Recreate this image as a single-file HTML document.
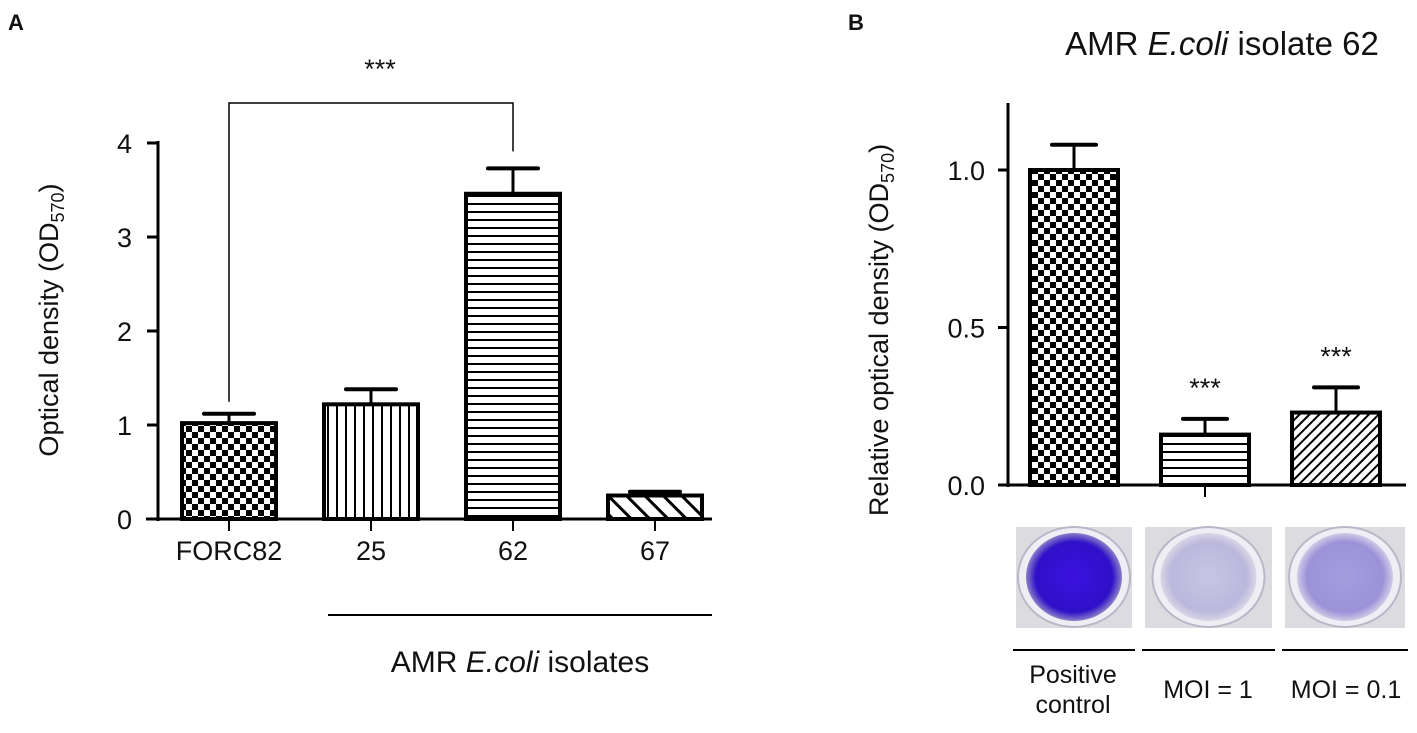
<!DOCTYPE html>
<html><head><meta charset="utf-8"><style>
body{margin:0;background:#fff;width:1417px;height:728px;overflow:hidden}
svg text{font-family:"Liberation Sans",Arial,sans-serif;fill:#111}
</style></head><body>
<svg width="1417" height="728">
<defs>
<pattern id="chk" width="12" height="12" patternUnits="userSpaceOnUse"><rect width="12" height="12" fill="#fff"/><rect width="6" height="6" fill="#000"/><rect x="6" y="6" width="6" height="6" fill="#000"/></pattern>
<pattern id="vert" width="9" height="10" patternUnits="userSpaceOnUse"><rect width="9" height="10" fill="#fff"/><rect x="3" width="2" height="10" fill="#000"/></pattern>
<pattern id="hor" width="10" height="8" patternUnits="userSpaceOnUse"><rect width="10" height="8" fill="#fff"/><rect y="3" width="10" height="2" fill="#000"/></pattern>
<pattern id="diagA" width="13" height="13" patternUnits="userSpaceOnUse" patternTransform="rotate(-45)"><rect width="13" height="13" fill="#fff"/><rect width="3" height="13" fill="#000"/></pattern>
<pattern id="diagB" width="7" height="7" patternUnits="userSpaceOnUse" patternTransform="rotate(45)"><rect width="7" height="7" fill="#fff"/><rect width="2" height="7" fill="#000"/></pattern>
<radialGradient id="w1"><stop offset="0" stop-color="#3a12e0"/><stop offset="0.8" stop-color="#3010c8"/><stop offset="1" stop-color="#8a80c8"/></radialGradient>
<radialGradient id="w2"><stop offset="0" stop-color="#c8c4e4"/><stop offset="0.8" stop-color="#bcb8dc"/><stop offset="1" stop-color="#d8d6e6"/></radialGradient>
<radialGradient id="w3"><stop offset="0" stop-color="#a69ce0"/><stop offset="0.8" stop-color="#9c92d8"/><stop offset="1" stop-color="#cfcbe6"/></radialGradient>
</defs>
<text x="8" y="30" font-size="22" font-weight="bold">A</text>
<text x="848" y="30" font-size="22" font-weight="bold">B</text>
<g id="A"></g>
<g id="B"></g>
</svg>
<script>
const catsA=["FORC82","25","62","67"];
const valsA=[1.02,1.22,3.46,0.25];
const errA=[0.10,0.16,0.27,0.04];
const ticksA=[0,1,2,3,4];
const fillsA=["chk","vert","hor","diagA"];
const catsB=["Positive control","MOI = 1","MOI = 0.1"];
const valsB=[1.0,0.16,0.23];
const errB=[0.08,0.05,0.08];
const ticksB=["0.0","0.5","1.0"];
const fillsB=["chk","hor","diagB"];
const NS="http://www.w3.org/2000/svg";
function mk(p,t,a,txt){const e=document.createElementNS(NS,t);for(const k in a)e.setAttribute(k,a[k]);if(txt!==undefined)e.textContent=txt;p.appendChild(e);return e;}
// Panel A
const A=document.getElementById('A');
const yA=v=>519-v*94, xA=i=>229+i*142;
mk(A,'line',{x1:158,y1:141,x2:158,y2:521,stroke:'#000','stroke-width':3});
mk(A,'line',{x1:146,y1:519,x2:712,y2:519,stroke:'#000','stroke-width':3});
ticksA.forEach(t=>{mk(A,'line',{x1:147,y1:yA(t),x2:158,y2:yA(t),stroke:'#000','stroke-width':3});
const tl=mk(A,'text',{x:132,y:yA(t)+10,'font-size':27,'text-anchor':'end'},t);});
valsA.forEach((v,i)=>{const x=xA(i);
mk(A,'line',{x1:x,y1:yA(v+errA[i]),x2:x,y2:yA(v),stroke:'#000','stroke-width':3});
mk(A,'line',{x1:x-25,y1:yA(v+errA[i]),x2:x+25,y2:yA(v+errA[i]),stroke:'#000','stroke-width':4,'stroke-linecap':'round'});
const b=mk(A,'rect',{x:x-47,y:yA(v),width:94,height:yA(0)-yA(v),fill:'url(#'+fillsA[i]+')',stroke:'#000','stroke-width':4});

mk(A,'line',{x1:x,y1:519,x2:x,y2:531,stroke:'#000','stroke-width':2});
const l=mk(A,'text',{x:x,y:560,'font-size':27,'text-anchor':'middle'},catsA[i]);});
mk(A,'path',{d:`M${xA(0)} ${yA(valsA[0]+errA[0])-12} V103 H${xA(2)} V${yA(valsA[2]+errA[2])-17}`,fill:'none',stroke:'#000','stroke-width':1.5});
mk(A,'text',{x:380,y:78,'font-size':27,'text-anchor':'middle'},'***');
mk(A,'line',{x1:328,y1:615,x2:712,y2:615,stroke:'#000','stroke-width':2});
const gl=mk(A,'text',{x:520,y:672,'font-size':30,'text-anchor':'middle'});
gl.innerHTML='AMR <tspan font-style="italic">E.coli</tspan> isolates';
const yt=mk(A,'text',{transform:'translate(58,320) rotate(-90)','font-size':27,'text-anchor':'middle'});
yt.innerHTML='Optical density  (OD<tspan font-size="18" dy="6">570</tspan><tspan dy="-6">)</tspan>';
// Panel B
const B=document.getElementById('B');
const yB=v=>485-v*315, xB=i=>1074+i*131;
const tt=mk(B,'text',{x:1222,y:55,'font-size':33,'text-anchor':'middle'});
tt.innerHTML='AMR <tspan font-style="italic">E.coli</tspan> isolate 62';
mk(B,'line',{x1:1008,y1:103,x2:1008,y2:487,stroke:'#000','stroke-width':3});
mk(B,'line',{x1:1006,y1:485,x2:1406,y2:485,stroke:'#000','stroke-width':3});
ticksB.forEach(t=>{const v=parseFloat(t);mk(B,'line',{x1:998,y1:yB(v),x2:1008,y2:yB(v),stroke:'#000','stroke-width':3});
const tl=mk(B,'text',{x:985,y:yB(v)+10,'font-size':27,'text-anchor':'end'},t);});
mk(B,'line',{x1:1205,y1:485,x2:1205,y2:497,stroke:'#000','stroke-width':2});
valsB.forEach((v,i)=>{const x=xB(i);
mk(B,'line',{x1:x,y1:yB(v+errB[i]),x2:x,y2:yB(v),stroke:'#000','stroke-width':3});
mk(B,'line',{x1:x-22,y1:yB(v+errB[i]),x2:x+22,y2:yB(v+errB[i]),stroke:'#000','stroke-width':4,'stroke-linecap':'round'});
const b=mk(B,'rect',{x:x-44,y:yB(v),width:88,height:yB(0)-yB(v),fill:'url(#'+fillsB[i]+')',stroke:'#000','stroke-width':4});

if(i>0){mk(B,'text',{x:x,y:yB(v+errB[i])-22,'font-size':27,'text-anchor':'middle'},'***');}
});
const wells=[[1016,116,'w1'],[1145,127,'w2'],[1285,120,'w3']];
wells.forEach((w,i)=>{const g=mk(B,'g',{});
mk(g,'rect',{x:w[0],y:527,width:w[1],height:101,fill:'#dcdce0'});
mk(g,'ellipse',{cx:w[0]+w[1]/2,cy:577,rx:56,ry:50,fill:'#eeeef4',stroke:'#b8b8c8','stroke-width':2});
mk(g,'ellipse',{cx:w[0]+w[1]/2,cy:577,rx:48,ry:44,fill:'url(#'+w[2]+')'});
mk(B,'line',{x1:w[0]-3,y1:650,x2:w[0]+w[1]+3,y2:650,stroke:'#000','stroke-width':2});});
const lb=[[1073,['Positive','control']],[1208,['MOI = 1']],[1346,['MOI = 0.1']]];
lb.forEach(l=>{const t=mk(B,'text',{x:l[0],y:l[1].length>1?683:698,'font-size':25,'text-anchor':'middle'});

l[1].forEach((s,j)=>mk(t,'tspan',{x:l[0],dy:j?30:0},s));});
const ytb=mk(B,'text',{transform:'translate(888,330) rotate(-90)','font-size':27,'text-anchor':'middle'});
ytb.innerHTML='Relative optical density (OD<tspan font-size="18" dy="6">570</tspan><tspan dy="-6">)</tspan>';
</script>
</body></html>
